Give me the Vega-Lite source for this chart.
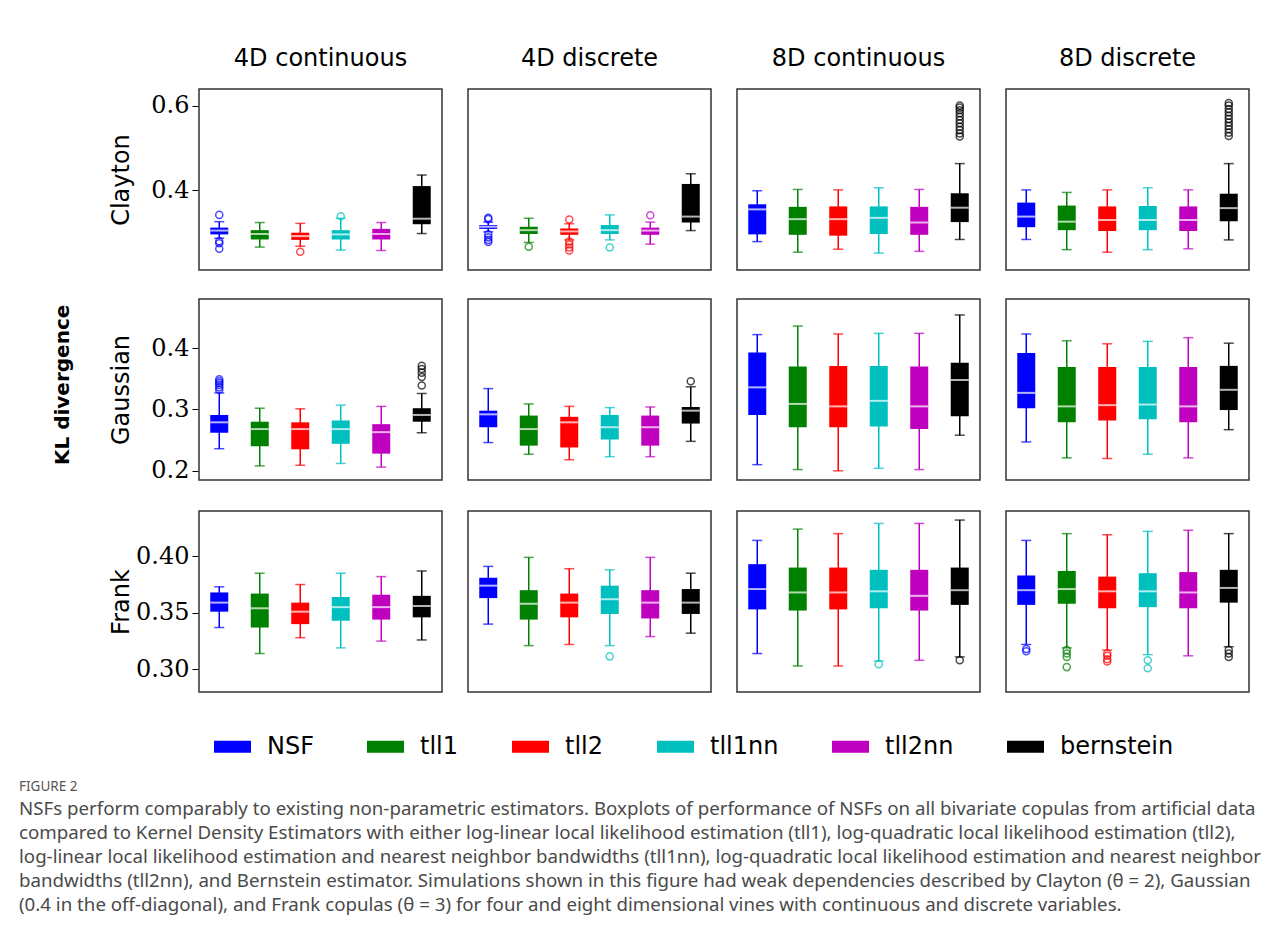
{
  "$schema": "https://vega.github.io/schema/vega-lite/v6.json",
  "background": "white",
  "padding": {"left": 18, "top": 47, "right": 5, "bottom": 5},
  "datasets": {
    "d": [
      {"cop":"Clayton","dim":"4D continuous","est":"NSF","lo":0.287,"q1":0.296,"med":0.305,"q3":0.312,"hi":0.326},
      {"cop":"Clayton","dim":"4D continuous","est":"tll1","lo":0.266,"q1":0.284,"med":0.297,"q3":0.306,"hi":0.324},
      {"cop":"Clayton","dim":"4D continuous","est":"tll2","lo":0.268,"q1":0.283,"med":0.292,"q3":0.300,"hi":0.322},
      {"cop":"Clayton","dim":"4D continuous","est":"tll1nn","lo":0.259,"q1":0.284,"med":0.296,"q3":0.306,"hi":0.334},
      {"cop":"Clayton","dim":"4D continuous","est":"tll2nn","lo":0.258,"q1":0.284,"med":0.297,"q3":0.309,"hi":0.324},
      {"cop":"Clayton","dim":"4D continuous","est":"bernstein","lo":0.298,"q1":0.320,"med":0.333,"q3":0.410,"hi":0.436},
      {"cop":"Clayton","dim":"4D continuous","est":"NSF","out":0.342},
      {"cop":"Clayton","dim":"4D continuous","est":"NSF","out":0.280},
      {"cop":"Clayton","dim":"4D continuous","est":"NSF","out":0.275},
      {"cop":"Clayton","dim":"4D continuous","est":"NSF","out":0.262},
      {"cop":"Clayton","dim":"4D continuous","est":"tll2","out":0.255},
      {"cop":"Clayton","dim":"4D continuous","est":"tll1nn","out":0.339},

      {"cop":"Clayton","dim":"4D discrete","est":"NSF","lo":0.302,"q1":0.309,"med":0.314,"q3":0.318,"hi":0.325},
      {"cop":"Clayton","dim":"4D discrete","est":"tll1","lo":0.277,"q1":0.297,"med":0.306,"q3":0.314,"hi":0.334},
      {"cop":"Clayton","dim":"4D discrete","est":"tll2","lo":0.283,"q1":0.295,"med":0.303,"q3":0.310,"hi":0.321},
      {"cop":"Clayton","dim":"4D discrete","est":"tll1nn","lo":0.283,"q1":0.297,"med":0.306,"q3":0.318,"hi":0.342},
      {"cop":"Clayton","dim":"4D discrete","est":"tll2nn","lo":0.273,"q1":0.295,"med":0.305,"q3":0.312,"hi":0.325},
      {"cop":"Clayton","dim":"4D discrete","est":"bernstein","lo":0.305,"q1":0.324,"med":0.338,"q3":0.415,"hi":0.439},
      {"cop":"Clayton","dim":"4D discrete","est":"NSF","out":0.335},
      {"cop":"Clayton","dim":"4D discrete","est":"NSF","out":0.332},
      {"cop":"Clayton","dim":"4D discrete","est":"NSF","out":0.296},
      {"cop":"Clayton","dim":"4D discrete","est":"NSF","out":0.289},
      {"cop":"Clayton","dim":"4D discrete","est":"NSF","out":0.283},
      {"cop":"Clayton","dim":"4D discrete","est":"NSF","out":0.278},
      {"cop":"Clayton","dim":"4D discrete","est":"tll1","out":0.267},
      {"cop":"Clayton","dim":"4D discrete","est":"tll2","out":0.331},
      {"cop":"Clayton","dim":"4D discrete","est":"tll2","out":0.279},
      {"cop":"Clayton","dim":"4D discrete","est":"tll2","out":0.272},
      {"cop":"Clayton","dim":"4D discrete","est":"tll2","out":0.265},
      {"cop":"Clayton","dim":"4D discrete","est":"tll2","out":0.258},
      {"cop":"Clayton","dim":"4D discrete","est":"tll1nn","out":0.265},
      {"cop":"Clayton","dim":"4D discrete","est":"tll2nn","out":0.341},

      {"cop":"Clayton","dim":"8D continuous","est":"NSF","lo":0.279,"q1":0.296,"med":0.355,"q3":0.367,"hi":0.399},
      {"cop":"Clayton","dim":"8D continuous","est":"tll1","lo":0.254,"q1":0.295,"med":0.332,"q3":0.361,"hi":0.402},
      {"cop":"Clayton","dim":"8D continuous","est":"tll2","lo":0.261,"q1":0.293,"med":0.332,"q3":0.362,"hi":0.401},
      {"cop":"Clayton","dim":"8D continuous","est":"tll1nn","lo":0.252,"q1":0.297,"med":0.335,"q3":0.362,"hi":0.406},
      {"cop":"Clayton","dim":"8D continuous","est":"tll2nn","lo":0.256,"q1":0.295,"med":0.324,"q3":0.361,"hi":0.402},
      {"cop":"Clayton","dim":"8D continuous","est":"bernstein","lo":0.284,"q1":0.325,"med":0.359,"q3":0.393,"hi":0.463},
      {"cop":"Clayton","dim":"8D continuous","est":"bernstein","out":0.600},
      {"cop":"Clayton","dim":"8D continuous","est":"bernstein","out":0.595},
      {"cop":"Clayton","dim":"8D continuous","est":"bernstein","out":0.589},
      {"cop":"Clayton","dim":"8D continuous","est":"bernstein","out":0.582},
      {"cop":"Clayton","dim":"8D continuous","est":"bernstein","out":0.574},
      {"cop":"Clayton","dim":"8D continuous","est":"bernstein","out":0.566},
      {"cop":"Clayton","dim":"8D continuous","est":"bernstein","out":0.558},
      {"cop":"Clayton","dim":"8D continuous","est":"bernstein","out":0.550},
      {"cop":"Clayton","dim":"8D continuous","est":"bernstein","out":0.542},
      {"cop":"Clayton","dim":"8D continuous","est":"bernstein","out":0.534},
      {"cop":"Clayton","dim":"8D continuous","est":"bernstein","out":0.527},

      {"cop":"Clayton","dim":"8D discrete","est":"NSF","lo":0.284,"q1":0.313,"med":0.338,"q3":0.371,"hi":0.401},
      {"cop":"Clayton","dim":"8D discrete","est":"tll1","lo":0.260,"q1":0.306,"med":0.326,"q3":0.364,"hi":0.395},
      {"cop":"Clayton","dim":"8D discrete","est":"tll2","lo":0.254,"q1":0.304,"med":0.330,"q3":0.362,"hi":0.401},
      {"cop":"Clayton","dim":"8D discrete","est":"tll1nn","lo":0.260,"q1":0.306,"med":0.330,"q3":0.363,"hi":0.406},
      {"cop":"Clayton","dim":"8D discrete","est":"tll2nn","lo":0.262,"q1":0.304,"med":0.330,"q3":0.362,"hi":0.401},
      {"cop":"Clayton","dim":"8D discrete","est":"bernstein","lo":0.283,"q1":0.327,"med":0.358,"q3":0.392,"hi":0.463},
      {"cop":"Clayton","dim":"8D discrete","est":"bernstein","out":0.606},
      {"cop":"Clayton","dim":"8D discrete","est":"bernstein","out":0.600},
      {"cop":"Clayton","dim":"8D discrete","est":"bernstein","out":0.592},
      {"cop":"Clayton","dim":"8D discrete","est":"bernstein","out":0.584},
      {"cop":"Clayton","dim":"8D discrete","est":"bernstein","out":0.576},
      {"cop":"Clayton","dim":"8D discrete","est":"bernstein","out":0.568},
      {"cop":"Clayton","dim":"8D discrete","est":"bernstein","out":0.560},
      {"cop":"Clayton","dim":"8D discrete","est":"bernstein","out":0.552},
      {"cop":"Clayton","dim":"8D discrete","est":"bernstein","out":0.544},
      {"cop":"Clayton","dim":"8D discrete","est":"bernstein","out":0.536},
      {"cop":"Clayton","dim":"8D discrete","est":"bernstein","out":0.528},

      {"cop":"Gaussian","dim":"4D continuous","est":"NSF","lo":0.236,"q1":0.262,"med":0.279,"q3":0.291,"hi":0.327},
      {"cop":"Gaussian","dim":"4D continuous","est":"tll1","lo":0.208,"q1":0.240,"med":0.268,"q3":0.280,"hi":0.302},
      {"cop":"Gaussian","dim":"4D continuous","est":"tll2","lo":0.209,"q1":0.235,"med":0.268,"q3":0.279,"hi":0.301},
      {"cop":"Gaussian","dim":"4D continuous","est":"tll1nn","lo":0.212,"q1":0.244,"med":0.268,"q3":0.282,"hi":0.307},
      {"cop":"Gaussian","dim":"4D continuous","est":"tll2nn","lo":0.206,"q1":0.228,"med":0.263,"q3":0.276,"hi":0.305},
      {"cop":"Gaussian","dim":"4D continuous","est":"bernstein","lo":0.262,"q1":0.280,"med":0.291,"q3":0.302,"hi":0.326},
      {"cop":"Gaussian","dim":"4D continuous","est":"NSF","out":0.349},
      {"cop":"Gaussian","dim":"4D continuous","est":"NSF","out":0.346},
      {"cop":"Gaussian","dim":"4D continuous","est":"NSF","out":0.343},
      {"cop":"Gaussian","dim":"4D continuous","est":"NSF","out":0.340},
      {"cop":"Gaussian","dim":"4D continuous","est":"NSF","out":0.336},
      {"cop":"Gaussian","dim":"4D continuous","est":"NSF","out":0.332},
      {"cop":"Gaussian","dim":"4D continuous","est":"bernstein","out":0.371},
      {"cop":"Gaussian","dim":"4D continuous","est":"bernstein","out":0.366},
      {"cop":"Gaussian","dim":"4D continuous","est":"bernstein","out":0.360},
      {"cop":"Gaussian","dim":"4D continuous","est":"bernstein","out":0.353},
      {"cop":"Gaussian","dim":"4D continuous","est":"bernstein","out":0.339},

      {"cop":"Gaussian","dim":"4D discrete","est":"NSF","lo":0.246,"q1":0.271,"med":0.292,"q3":0.298,"hi":0.334},
      {"cop":"Gaussian","dim":"4D discrete","est":"tll1","lo":0.227,"q1":0.241,"med":0.268,"q3":0.290,"hi":0.309},
      {"cop":"Gaussian","dim":"4D discrete","est":"tll2","lo":0.218,"q1":0.238,"med":0.279,"q3":0.288,"hi":0.305},
      {"cop":"Gaussian","dim":"4D discrete","est":"tll1nn","lo":0.223,"q1":0.251,"med":0.271,"q3":0.291,"hi":0.303},
      {"cop":"Gaussian","dim":"4D discrete","est":"tll2nn","lo":0.223,"q1":0.241,"med":0.271,"q3":0.290,"hi":0.304},
      {"cop":"Gaussian","dim":"4D discrete","est":"bernstein","lo":0.248,"q1":0.277,"med":0.298,"q3":0.304,"hi":0.337},
      {"cop":"Gaussian","dim":"4D discrete","est":"bernstein","out":0.346},

      {"cop":"Gaussian","dim":"8D continuous","est":"NSF","lo":0.210,"q1":0.291,"med":0.336,"q3":0.393,"hi":0.422},
      {"cop":"Gaussian","dim":"8D continuous","est":"tll1","lo":0.202,"q1":0.271,"med":0.309,"q3":0.370,"hi":0.436},
      {"cop":"Gaussian","dim":"8D continuous","est":"tll2","lo":0.200,"q1":0.271,"med":0.305,"q3":0.371,"hi":0.423},
      {"cop":"Gaussian","dim":"8D continuous","est":"tll1nn","lo":0.204,"q1":0.272,"med":0.314,"q3":0.371,"hi":0.424},
      {"cop":"Gaussian","dim":"8D continuous","est":"tll2nn","lo":0.202,"q1":0.268,"med":0.305,"q3":0.370,"hi":0.424},
      {"cop":"Gaussian","dim":"8D continuous","est":"bernstein","lo":0.258,"q1":0.289,"med":0.348,"q3":0.376,"hi":0.454},

      {"cop":"Gaussian","dim":"8D discrete","est":"NSF","lo":0.247,"q1":0.302,"med":0.327,"q3":0.392,"hi":0.423},
      {"cop":"Gaussian","dim":"8D discrete","est":"tll1","lo":0.221,"q1":0.279,"med":0.305,"q3":0.369,"hi":0.412},
      {"cop":"Gaussian","dim":"8D discrete","est":"tll2","lo":0.220,"q1":0.282,"med":0.307,"q3":0.369,"hi":0.407},
      {"cop":"Gaussian","dim":"8D discrete","est":"tll1nn","lo":0.227,"q1":0.284,"med":0.308,"q3":0.369,"hi":0.411},
      {"cop":"Gaussian","dim":"8D discrete","est":"tll2nn","lo":0.221,"q1":0.279,"med":0.305,"q3":0.369,"hi":0.417},
      {"cop":"Gaussian","dim":"8D discrete","est":"bernstein","lo":0.267,"q1":0.299,"med":0.332,"q3":0.371,"hi":0.408},

      {"cop":"Frank","dim":"4D continuous","est":"NSF","lo":0.337,"q1":0.351,"med":0.359,"q3":0.368,"hi":0.373},
      {"cop":"Frank","dim":"4D continuous","est":"tll1","lo":0.314,"q1":0.337,"med":0.354,"q3":0.367,"hi":0.385},
      {"cop":"Frank","dim":"4D continuous","est":"tll2","lo":0.328,"q1":0.340,"med":0.351,"q3":0.359,"hi":0.375},
      {"cop":"Frank","dim":"4D continuous","est":"tll1nn","lo":0.319,"q1":0.343,"med":0.355,"q3":0.364,"hi":0.385},
      {"cop":"Frank","dim":"4D continuous","est":"tll2nn","lo":0.325,"q1":0.344,"med":0.355,"q3":0.366,"hi":0.382},
      {"cop":"Frank","dim":"4D continuous","est":"bernstein","lo":0.326,"q1":0.346,"med":0.356,"q3":0.365,"hi":0.387},

      {"cop":"Frank","dim":"4D discrete","est":"NSF","lo":0.340,"q1":0.363,"med":0.374,"q3":0.381,"hi":0.391},
      {"cop":"Frank","dim":"4D discrete","est":"tll1","lo":0.321,"q1":0.344,"med":0.358,"q3":0.370,"hi":0.399},
      {"cop":"Frank","dim":"4D discrete","est":"tll2","lo":0.322,"q1":0.346,"med":0.359,"q3":0.367,"hi":0.389},
      {"cop":"Frank","dim":"4D discrete","est":"tll1nn","lo":0.321,"q1":0.349,"med":0.362,"q3":0.374,"hi":0.388},
      {"cop":"Frank","dim":"4D discrete","est":"tll2nn","lo":0.329,"q1":0.345,"med":0.359,"q3":0.370,"hi":0.399},
      {"cop":"Frank","dim":"4D discrete","est":"bernstein","lo":0.332,"q1":0.349,"med":0.359,"q3":0.371,"hi":0.385},
      {"cop":"Frank","dim":"4D discrete","est":"tll1nn","out":0.3115},

      {"cop":"Frank","dim":"8D continuous","est":"NSF","lo":0.314,"q1":0.353,"med":0.371,"q3":0.393,"hi":0.414},
      {"cop":"Frank","dim":"8D continuous","est":"tll1","lo":0.303,"q1":0.352,"med":0.368,"q3":0.390,"hi":0.424},
      {"cop":"Frank","dim":"8D continuous","est":"tll2","lo":0.303,"q1":0.353,"med":0.368,"q3":0.390,"hi":0.420},
      {"cop":"Frank","dim":"8D continuous","est":"tll1nn","lo":0.3075,"q1":0.354,"med":0.369,"q3":0.388,"hi":0.429},
      {"cop":"Frank","dim":"8D continuous","est":"tll2nn","lo":0.308,"q1":0.352,"med":0.365,"q3":0.388,"hi":0.429},
      {"cop":"Frank","dim":"8D continuous","est":"bernstein","lo":0.311,"q1":0.357,"med":0.370,"q3":0.390,"hi":0.432},
      {"cop":"Frank","dim":"8D continuous","est":"tll1nn","out":0.3045},
      {"cop":"Frank","dim":"8D continuous","est":"bernstein","out":0.308},

      {"cop":"Frank","dim":"8D discrete","est":"NSF","lo":0.322,"q1":0.357,"med":0.370,"q3":0.383,"hi":0.414},
      {"cop":"Frank","dim":"8D discrete","est":"tll1","lo":0.319,"q1":0.358,"med":0.371,"q3":0.387,"hi":0.420},
      {"cop":"Frank","dim":"8D discrete","est":"tll2","lo":0.317,"q1":0.354,"med":0.369,"q3":0.382,"hi":0.419},
      {"cop":"Frank","dim":"8D discrete","est":"tll1nn","lo":0.313,"q1":0.355,"med":0.369,"q3":0.385,"hi":0.422},
      {"cop":"Frank","dim":"8D discrete","est":"tll2nn","lo":0.312,"q1":0.354,"med":0.368,"q3":0.386,"hi":0.423},
      {"cop":"Frank","dim":"8D discrete","est":"bernstein","lo":0.320,"q1":0.359,"med":0.372,"q3":0.388,"hi":0.420},
      {"cop":"Frank","dim":"8D discrete","est":"NSF","out":0.318},
      {"cop":"Frank","dim":"8D discrete","est":"NSF","out":0.316},
      {"cop":"Frank","dim":"8D discrete","est":"tll1","out":0.317},
      {"cop":"Frank","dim":"8D discrete","est":"tll1","out":0.314},
      {"cop":"Frank","dim":"8D discrete","est":"tll1","out":0.311},
      {"cop":"Frank","dim":"8D discrete","est":"tll1","out":0.302},
      {"cop":"Frank","dim":"8D discrete","est":"tll2","out":0.314},
      {"cop":"Frank","dim":"8D discrete","est":"tll2","out":0.312},
      {"cop":"Frank","dim":"8D discrete","est":"tll2","out":0.309},
      {"cop":"Frank","dim":"8D discrete","est":"tll2","out":0.307},
      {"cop":"Frank","dim":"8D discrete","est":"tll1nn","out":0.308},
      {"cop":"Frank","dim":"8D discrete","est":"tll1nn","out":0.301},
      {"cop":"Frank","dim":"8D discrete","est":"bernstein","out":0.317},
      {"cop":"Frank","dim":"8D discrete","est":"bernstein","out":0.314},
      {"cop":"Frank","dim":"8D discrete","est":"bernstein","out":0.311}
    ]
  },
  "data": {"name": "d"},
  "title": {
    "text": "FIGURE 2",
    "subtitle": [
      "NSFs perform comparably to existing non-parametric estimators. Boxplots of performance of NSFs on all bivariate copulas from artificial data",
      "compared to Kernel Density Estimators with either log-linear local likelihood estimation (tll1), log-quadratic local likelihood estimation (tll2),",
      "log-linear local likelihood estimation and nearest neighbor bandwidths (tll1nn), log-quadratic local likelihood estimation and nearest neighbor",
      "bandwidths (tll2nn), and Bernstein estimator. Simulations shown in this figure had weak dependencies described by Clayton (θ = 2), Gaussian",
      "(0.4 in the off-diagonal), and Frank copulas (θ = 3) for four and eight dimensional vines with continuous and discrete variables."
    ],
    "orient": "bottom",
    "anchor": "start",
    "frame": "bounds",
    "dx": -34,
    "offset": 21,
    "font": "Noto Sans",
    "fontSize": 13.5,
    "fontWeight": "normal",
    "color": "#555555",
    "subtitleFont": "Noto Sans",
    "subtitleFontSize": 18.7,
    "subtitleColor": "#4a4a4a",
    "subtitleLineHeight": 24,
    "subtitlePadding": 6
  },
  "vconcat": [
    {
      "title": {"text": "KL divergence", "orient": "left", "anchor": "middle", "frame": "bounds", "dx": -15, "font": "DejaVu Sans", "fontSize": 20, "fontWeight": "bold", "color": "#000000", "offset": 36},
      "spacing": 27,
      "vconcat": [
        {
          "transform": [{"filter": "datum.cop == 'Clayton'"}],
          "facet": {"column": {"field": "dim", "type": "nominal", "title": null, "header": {"labelFont": "DejaVu Sans", "labelFontSize": 24, "labelColor": "#000000", "labelPadding": 17}}},
          "spacing": 24,
          "spec": {
            "width": 243, "height": 181,
            "encoding": {
              "x": {"field": "est", "type": "nominal", "scale": {"domain": ["NSF","tll1","tll2","tll1nn","tll2nn","bernstein"], "paddingInner": 0, "paddingOuter": 0}, "axis": null},
              "color": {"field": "est", "type": "nominal", "scale": {"domain": ["NSF","tll1","tll2","tll1nn","tll2nn","bernstein"], "range": ["#0000ff","#008000","#ff0000","#00bfbf","#bf00bf","#000000"]}}
            },
            "layer": [
              {"transform": [{"filter": "datum.lo != null"}], "mark": {"type": "rule", "strokeWidth": 1.5}, "encoding": {"y": {"field": "lo", "type": "quantitative", "title": "Clayton", "scale": {"domain": [0.212, 0.639], "nice": false, "zero": false}, "axis": {"values": [0.4, 0.6], "format": ".1f", "grid": false, "domain": false, "tickSize": 6, "tickColor": "#000000", "labelFont": "DejaVu Serif", "labelFontSize": 24, "labelColor": "#000000", "labelPadding": 3, "titleFont": "DejaVu Sans", "titleFontSize": 24, "titleFontWeight": "normal", "titleColor": "#000000", "titleX": -65, "titleBaseline": "bottom"}}, "y2": {"field": "hi"}}},
              {"transform": [{"filter": "datum.lo != null"}], "mark": {"type": "tick", "size": 10, "thickness": 1.5}, "encoding": {"y": {"field": "lo", "type": "quantitative", "title": "Clayton"}}},
              {"transform": [{"filter": "datum.lo != null"}], "mark": {"type": "tick", "size": 10, "thickness": 1.5}, "encoding": {"y": {"field": "hi", "type": "quantitative", "title": "Clayton"}}},
              {"transform": [{"filter": "datum.lo != null"}], "mark": {"type": "bar", "size": 18}, "encoding": {"y": {"field": "q1", "type": "quantitative", "title": "Clayton"}, "y2": {"field": "q3"}}},
              {"transform": [{"filter": "datum.lo != null"}], "mark": {"type": "tick", "size": 18, "thickness": 2, "color": "white"}, "encoding": {"y": {"field": "med", "type": "quantitative", "title": "Clayton"}, "color": {"value": "white"}}},
              {"transform": [{"filter": "datum.out != null"}], "mark": {"type": "point", "shape": "circle", "filled": false, "size": 50, "strokeWidth": 1.5}, "encoding": {"y": {"field": "out", "type": "quantitative", "title": "Clayton"}}}
            ]
          }
        },
        {
          "transform": [{"filter": "datum.cop == 'Gaussian'"}],
          "facet": {"column": {"field": "dim", "type": "nominal", "title": null, "header": null}},
          "spacing": 24,
          "spec": {
            "width": 243, "height": 181,
            "encoding": {
              "x": {"field": "est", "type": "nominal", "scale": {"domain": ["NSF","tll1","tll2","tll1nn","tll2nn","bernstein"], "paddingInner": 0, "paddingOuter": 0}, "axis": null},
              "color": {"field": "est", "type": "nominal", "scale": {"domain": ["NSF","tll1","tll2","tll1nn","tll2nn","bernstein"], "range": ["#0000ff","#008000","#ff0000","#00bfbf","#bf00bf","#000000"]}}
            },
            "layer": [
              {"transform": [{"filter": "datum.lo != null"}], "mark": {"type": "rule", "strokeWidth": 1.5}, "encoding": {"y": {"field": "lo", "type": "quantitative", "title": "Gaussian", "scale": {"domain": [0.185, 0.480], "nice": false, "zero": false}, "axis": {"values": [0.2, 0.3, 0.4], "format": ".1f", "grid": false, "domain": false, "tickSize": 6, "tickColor": "#000000", "labelFont": "DejaVu Serif", "labelFontSize": 24, "labelColor": "#000000", "labelPadding": 3, "titleFont": "DejaVu Sans", "titleFontSize": 24, "titleFontWeight": "normal", "titleColor": "#000000", "titleX": -65, "titleBaseline": "bottom"}}, "y2": {"field": "hi"}}},
              {"transform": [{"filter": "datum.lo != null"}], "mark": {"type": "tick", "size": 10, "thickness": 1.5}, "encoding": {"y": {"field": "lo", "type": "quantitative", "title": "Gaussian"}}},
              {"transform": [{"filter": "datum.lo != null"}], "mark": {"type": "tick", "size": 10, "thickness": 1.5}, "encoding": {"y": {"field": "hi", "type": "quantitative", "title": "Gaussian"}}},
              {"transform": [{"filter": "datum.lo != null"}], "mark": {"type": "bar", "size": 18}, "encoding": {"y": {"field": "q1", "type": "quantitative", "title": "Gaussian"}, "y2": {"field": "q3"}}},
              {"transform": [{"filter": "datum.lo != null"}], "mark": {"type": "tick", "size": 18, "thickness": 2, "color": "white"}, "encoding": {"y": {"field": "med", "type": "quantitative", "title": "Gaussian"}, "color": {"value": "white"}}},
              {"transform": [{"filter": "datum.out != null"}], "mark": {"type": "point", "shape": "circle", "filled": false, "size": 50, "strokeWidth": 1.5}, "encoding": {"y": {"field": "out", "type": "quantitative", "title": "Gaussian"}}}
            ]
          }
        },
        {
          "transform": [{"filter": "datum.cop == 'Frank'"}],
          "facet": {"column": {"field": "dim", "type": "nominal", "title": null, "header": null}},
          "spacing": 24,
          "spec": {
            "width": 243, "height": 181,
            "encoding": {
              "x": {"field": "est", "type": "nominal", "scale": {"domain": ["NSF","tll1","tll2","tll1nn","tll2nn","bernstein"], "paddingInner": 0, "paddingOuter": 0}, "axis": null},
              "color": {"field": "est", "type": "nominal", "scale": {"domain": ["NSF","tll1","tll2","tll1nn","tll2nn","bernstein"], "range": ["#0000ff","#008000","#ff0000","#00bfbf","#bf00bf","#000000"]}}
            },
            "layer": [
              {"transform": [{"filter": "datum.lo != null"}], "mark": {"type": "rule", "strokeWidth": 1.5}, "encoding": {"y": {"field": "lo", "type": "quantitative", "title": "Frank", "scale": {"domain": [0.280, 0.440], "nice": false, "zero": false}, "axis": {"values": [0.30, 0.35, 0.40], "format": ".2f", "grid": false, "domain": false, "tickSize": 6, "tickColor": "#000000", "labelFont": "DejaVu Serif", "labelFontSize": 24, "labelColor": "#000000", "labelPadding": 3, "titleFont": "DejaVu Sans", "titleFontSize": 24, "titleFontWeight": "normal", "titleColor": "#000000", "titleX": -65, "titleBaseline": "bottom"}}, "y2": {"field": "hi"}}},
              {"transform": [{"filter": "datum.lo != null"}], "mark": {"type": "tick", "size": 10, "thickness": 1.5}, "encoding": {"y": {"field": "lo", "type": "quantitative", "title": "Frank"}}},
              {"transform": [{"filter": "datum.lo != null"}], "mark": {"type": "tick", "size": 10, "thickness": 1.5}, "encoding": {"y": {"field": "hi", "type": "quantitative", "title": "Frank"}}},
              {"transform": [{"filter": "datum.lo != null"}], "mark": {"type": "bar", "size": 18}, "encoding": {"y": {"field": "q1", "type": "quantitative", "title": "Frank"}, "y2": {"field": "q3"}}},
              {"transform": [{"filter": "datum.lo != null"}], "mark": {"type": "tick", "size": 18, "thickness": 2, "color": "white"}, "encoding": {"y": {"field": "med", "type": "quantitative", "title": "Frank"}, "color": {"value": "white"}}},
              {"transform": [{"filter": "datum.out != null"}], "mark": {"type": "point", "shape": "circle", "filled": false, "size": 50, "strokeWidth": 1.5}, "encoding": {"y": {"field": "out", "type": "quantitative", "title": "Frank"}}}
            ]
          }
        }
      ]
    }
  ],
  "config": {
    "view": {"stroke": "#333333", "strokeWidth": 1.5},
    "legend": {
      "orient": "none",
      "direction": "horizontal",
      "legendX": 15,
      "legendY": 639,
      "title": null,
      "labelFont": "DejaVu Sans",
      "labelFontSize": 24,
      "labelColor": "#000000",
      "labelOffset": 16,
      "columnPadding": 53,
      "symbolType": "M-1,-0.33H1V0.33H-1Z",
      "symbolSize": 1369,
      "symbolStrokeWidth": 0,
      "symbolOpacity": 1
    }
  }
}
